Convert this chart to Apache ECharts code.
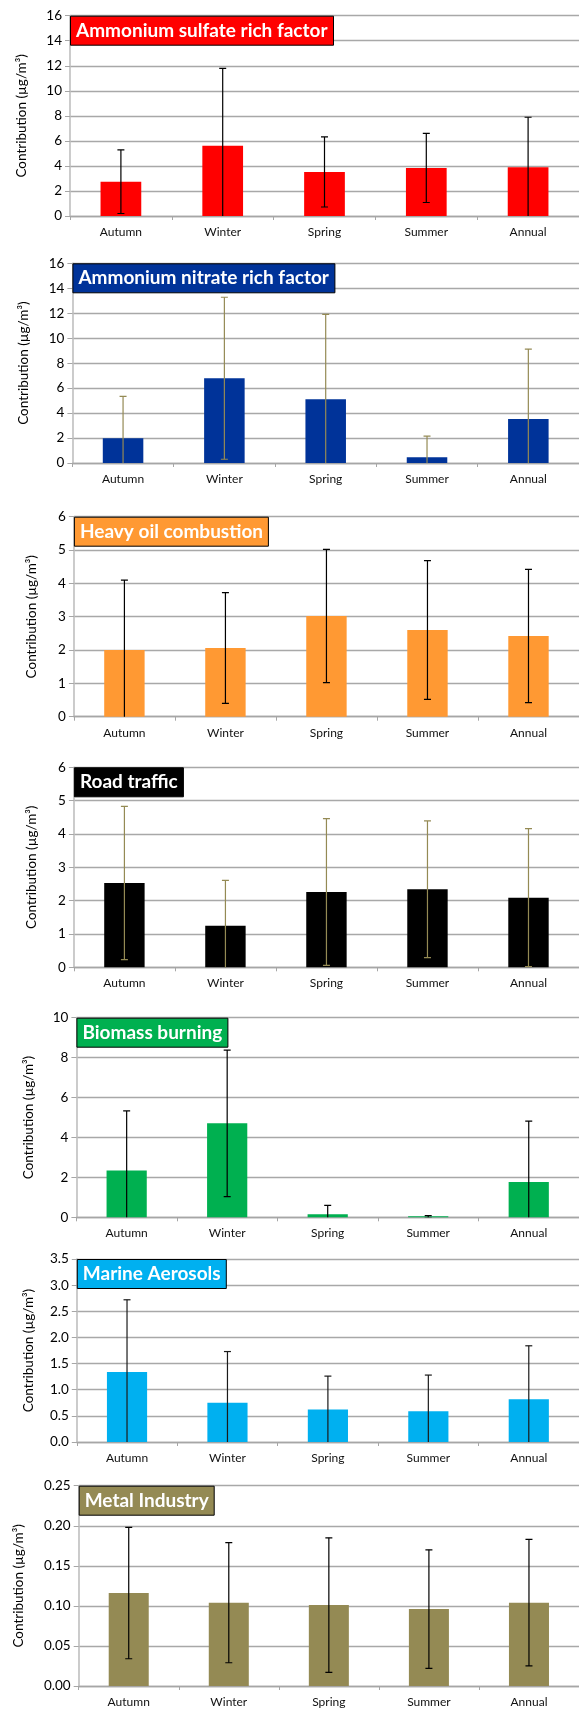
<!DOCTYPE html>
<html>
<head>
<meta charset="utf-8">
<script src="https://cdn.jsdelivr.net/npm/echarts@6/dist/echarts.min.js"></script>
<style>
  html, body { margin: 0; padding: 0; background: #fff; }
  #chart { width: 579px; height: 1711px; }
</style>
</head>
<body>
<div id="chart"></div>
<script>
// categories
var seasons = ["Autumn", "Winter", "Spring", "Summer", "Annual"];

// mean contribution and standard deviation per factor (µg/m3)
var sulfateMean = [2.74, 5.62, 3.52, 3.84, 3.89];
var sulfateSd = [2.54, 6.18, 2.8, 2.76, 4.0];

var nitrateMean = [1.98, 6.79, 5.1, 0.46, 3.53];
var nitrateSd = [3.36, 6.49, 6.81, 1.7, 5.6];

var heavyOilMean = [2.0, 2.06, 3.02, 2.6, 2.42];
var heavyOilSd = [2.1, 1.66, 2.0, 2.08, 2.0];

var trafficMean = [2.53, 1.25, 2.26, 2.34, 2.09];
var trafficSd = [2.3, 1.36, 2.2, 2.05, 2.07];

var biomassMean = [2.34, 4.71, 0.15, 0.03, 1.77];
var biomassSd = [2.99, 3.67, 0.45, 0.05, 3.05];

var marineMean = [1.34, 0.75, 0.62, 0.59, 0.82];
var marineSd = [1.38, 0.98, 0.64, 0.69, 1.02];

var metalMean = [0.116, 0.104, 0.101, 0.096, 0.104];
var metalSd = [0.082, 0.075, 0.084, 0.074, 0.079];

// y axis ranges
var yMax = [16, 16, 6, 6, 10, 3.5, 0.25];
var yStep = [2, 2, 1, 1, 2, 0.5, 0.05];
var yDecimals = [0, 0, 0, 0, 0, 1, 2];

var panels = [
  { name: "Ammonium sulfate rich factor", mean: sulfateMean, sd: sulfateSd,
    color: "#FF0000", err: "#000000", left: 70, top: 15.7, height: 200.3, nameCx: 22 },
  { name: "Ammonium nitrate rich factor", mean: nitrateMean, sd: nitrateSd,
    color: "#003399", err: "#948A54", left: 72.4, top: 263.3, height: 199.7, nameCx: 24 },
  { name: "Heavy oil combustion", mean: heavyOilMean, sd: heavyOilSd,
    color: "#FF9933", err: "#000000", left: 73.9, top: 516.7, height: 200, nameCx: 32 },
  { name: "Road traffic", mean: trafficMean, sd: trafficSd,
    color: "#000000", err: "#948A54", left: 73.9, top: 767.3, height: 200, nameCx: 32 },
  { name: "Biomass burning", mean: biomassMean, sd: biomassSd,
    color: "#00B050", err: "#000000", left: 76.4, top: 1017.7, height: 199.6, nameCx: 29 },
  { name: "Marine Aerosols", mean: marineMean, sd: marineSd,
    color: "#00B0F0", err: "#1a1a1a", left: 76.8, top: 1259, height: 183, nameCx: 29 },
  { name: "Metal Industry", mean: metalMean, sd: metalSd,
    color: "#948A54", err: "#000000", left: 78.7, top: 1485.7, height: 200.3, nameCx: 19 }
];

var FONT = "Lato";
var option = {
  animation: false,
  backgroundColor: "#fff",
  title: [],
  grid: [],
  xAxis: [],
  yAxis: [],
  series: []
};

panels.forEach(function (p, k) {
  option.grid.push({
    left: p.left, right: -5, top: p.top, height: p.height, containLabel: false
  });
  option.title.push({
    text: p.name,
    left: p.left,
    top: p.top,
    backgroundColor: p.color,
    borderColor: "#000",
    borderWidth: 1,
    padding: [4, 6, 4, 6],
    textStyle: {
      color: "#fff", fontFamily: FONT, fontWeight: "bold", fontSize: 19, lineHeight: 22
    }
  });
  option.xAxis.push({
    type: "category",
    gridIndex: k,
    data: seasons,
    axisLine: { lineStyle: { color: "#A6A6A6", width: 1.3 } },
    axisTick: { show: true, length: 4, lineStyle: { color: "#A6A6A6" } },
    axisLabel: { color: "#111", fontFamily: FONT, fontSize: 12, margin: 10 },
    splitLine: { show: false }
  });
  option.yAxis.push({
    type: "value",
    gridIndex: k,
    min: 0,
    max: yMax[k],
    interval: yStep[k],
    name: "Contribution (µg/m³)",
    nameLocation: "middle",
    nameRotate: 90,
    nameGap: p.left - p.nameCx - 7,
    nameTextStyle: { color: "#000", fontFamily: FONT, fontSize: 13.5 },
    axisLine: { show: true, lineStyle: { color: "#BFBFBF", width: 1.6 } },
    axisTick: { show: true, length: 5, lineStyle: { color: "#A6A6A6" } },
    axisLabel: {
      color: "#000", fontFamily: FONT, fontSize: 13.5, margin: 8,
      formatter: function (v) { return v.toFixed(yDecimals[k]); }
    },
    splitLine: { show: true, lineStyle: { color: "#A8A8A8", width: 1.3 } }
  });
  option.series.push({
    type: "bar",
    xAxisIndex: k,
    yAxisIndex: k,
    barWidth: "40%",
    barMinHeight: 1,
    data: p.mean,
    itemStyle: { color: p.color },
    z: 2
  });
  option.series.push({
    type: "custom",
    xAxisIndex: k,
    yAxisIndex: k,
    clip: true,
    z: 3,
    data: p.mean.map(function (m, i) { return [i, m, p.sd[i]]; }),
    renderItem: function (params, api) {
      var i = api.value(0), m = api.value(1), s = api.value(2);
      var hi = api.coord([i, m + s]);
      var lo = api.coord([i, m - s]);
      var w = 3.5;
      var st = { stroke: p.err, lineWidth: 1.2 };
      return {
        type: "group",
        children: [
          { type: "line", shape: { x1: hi[0], y1: hi[1], x2: lo[0], y2: lo[1] }, style: st },
          { type: "line", shape: { x1: hi[0] - w, y1: hi[1], x2: hi[0] + w, y2: hi[1] }, style: st },
          { type: "line", shape: { x1: lo[0] - w, y1: lo[1], x2: lo[0] + w, y2: lo[1] }, style: st }
        ]
      };
    }
  });
});

var myChart = echarts.init(document.getElementById("chart"), null, { renderer: "canvas" });
myChart.setOption(option);
</script>
</body>
</html>
